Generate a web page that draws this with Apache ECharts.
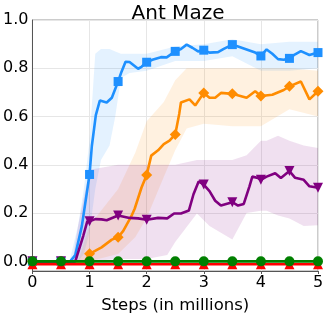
<!DOCTYPE html>
<html><head><meta charset="utf-8">
<script src="https://cdn.jsdelivr.net/npm/echarts@6/dist/echarts.min.js"></script>
<style>html,body{margin:0;padding:0;background:#fff}#c{width:332px;height:319px}</style>
</head><body><div id="c"></div>
<script>
var xTicks = [0, 1, 2, 3, 4, 5];
var yTicks = [0.0, 0.2, 0.4, 0.6, 0.8, 1.0];

var blueX = [0,0.5,0.66,0.75,0.865,1.0,1.04,1.11,1.18,1.3,1.39,1.5,1.56,1.63,1.7,1.85,1.91,2.0,2.1,2.25,2.35,2.5,2.6,2.7,2.8,2.9,3.0,3.1,3.25,3.35,3.5,3.6,3.75,3.9,4.0,4.1,4.2,4.3,4.4,4.5,4.6,4.7,4.85,5.0];
var blueY = [0,0,0,0.026,0.146,0.36,0.478,0.606,0.666,0.658,0.678,0.745,0.786,0.827,0.826,0.798,0.806,0.825,0.835,0.846,0.845,0.87,0.88,0.898,0.885,0.87,0.875,0.865,0.867,0.88,0.898,0.89,0.878,0.865,0.851,0.878,0.86,0.838,0.835,0.841,0.858,0.871,0.855,0.865];
var blueBandX = [0.65,0.8,0.9,1.0,1.1,1.2,1.35,1.45,1.55,1.7,2.0,2.5,3.0,3.5,4.0,4.5,5.0];
var blueLow  = [0,0,0.03,0.12,0.3,0.42,0.48,0.6,0.76,0.78,0.79,0.83,0.83,0.85,0.79,0.79,0.8];
var blueHigh = [0,0.15,0.3,0.5,0.86,0.88,0.88,0.87,0.86,0.86,0.86,0.89,0.9,0.92,0.9,0.91,0.91];

var orangeX = [0,0.5,0.92,1.0,1.21,1.39,1.5,1.59,1.73,1.79,1.91,2.0,2.08,2.2,2.3,2.4,2.5,2.57,2.6,2.75,2.85,3.0,3.1,3.2,3.3,3.5,3.75,3.9,4.0,4.2,4.4,4.5,4.7,4.85,5.0];
var orangeY = [0,0,0,0.031,0.058,0.09,0.1,0.126,0.186,0.218,0.306,0.358,0.438,0.46,0.486,0.5,0.526,0.611,0.658,0.671,0.646,0.698,0.678,0.678,0.698,0.694,0.678,0.705,0.685,0.69,0.71,0.725,0.745,0.671,0.705];
var orangeBandX = [0.8,1.0,1.5,1.8,2.0,2.3,2.5,2.7,3.0,3.5,4.0,4.5,5.0];
var orangeLow  = [0,0,0.03,0.1,0.18,0.35,0.46,0.55,0.57,0.56,0.56,0.63,0.6];
var orangeHigh = [0,0.15,0.3,0.45,0.58,0.66,0.75,0.8,0.8,0.8,0.8,0.8,0.79];

var purpleX = [0,0.5,0.75,0.89,0.96,1.0,1.1,1.21,1.3,1.5,1.7,1.85,2.0,2.2,2.36,2.48,2.6,2.74,2.82,2.91,3.0,3.1,3.2,3.3,3.5,3.6,3.7,3.8,3.85,3.95,4.0,4.1,4.25,4.35,4.5,4.6,4.75,4.85,5.0];
var purpleY = [0,0,0,0.106,0.166,0.166,0.175,0.174,0.17,0.19,0.18,0.178,0.172,0.18,0.178,0.198,0.198,0.211,0.278,0.331,0.318,0.291,0.251,0.231,0.245,0.231,0.238,0.311,0.351,0.345,0.338,0.351,0.365,0.345,0.374,0.346,0.338,0.311,0.305];
var purpleBandX = [0.7,0.8,1.0,1.5,2.0,2.36,2.5,2.88,3.1,3.5,3.75,4.0,4.1,4.3,4.5,4.75,5.0];
var purpleLow  = [0,0,0,0.01,0.01,0.026,0.08,0.198,0.146,0.091,0.2,0.21,0.21,0.19,0.178,0.146,0.15];
var purpleHigh = [0,0.15,0.38,0.4,0.4,0.4,0.4,0.42,0.42,0.42,0.44,0.5,0.5,0.52,0.5,0.48,0.47];

var greenX = [0,0.5,1,1.5,2,2.5,3,3.5,4,4.5,5];
var greenY = [0,0,0,0,0,0,0,0,0,0,0];
var redX = [0,0.5,1,1.5,2,2.5,3,3.5,4,4.5,5];
var redY = [-0.012,-0.012,-0.012,-0.012,-0.012,-0.012,-0.012,-0.012,-0.012,-0.012,-0.012];

function pairs(xs, ys){ return xs.map(function(x,i){return [x, ys[i]];}); }
function isMark(v){ var r = v[0]*2; return Math.abs(r - Math.round(r)) < 1e-6; }

function band(xs, lo, hi, color){
  return {
    type: 'custom', z: 1, silent: true,
    data: xs.map(function(x,i){return [x, lo[i], hi[i]];}),
    renderItem: function(params, api){
      if (params.dataIndex !== 0) return null;
      var pts = [];
      for (var i=0;i<xs.length;i++) pts.push(api.coord([xs[i], hi[i]]));
      for (var j=xs.length-1;j>=0;j--) pts.push(api.coord([xs[j], lo[j]]));
      return {type:'polygon', shape:{points:pts}, style:{fill:color, stroke:null}};
    }
  };
}
function line(xs, ys, color, symbol, size, z, rot){
  return {
    type: 'line', z: z, data: pairs(xs, ys),
    symbol: function(v){ return isMark(v) ? symbol : 'none'; },
    symbolSize: size, symbolRotate: rot || 0, showAllSymbol: true,
    lineStyle: {color: color, width: 2.6},
    itemStyle: {color: color, borderWidth: 0},
    animation: false
  };
}

var chart = echarts.init(document.getElementById('c'), null, {renderer:'canvas'});
chart.setOption({
  animation: false,
  title: {text: 'Ant Maze', left: 173, top: -1, textAlign: 'center',
    textStyle: {fontFamily: 'DejaVu Sans', fontSize: 20, fontWeight: 'normal', color: '#000'}},
  grid: {left: 30, right: 14, top: 20, bottom: 40, show: true, borderColor: '#999', borderWidth: 1},
  xAxis: {
    type: 'value', min: 0, max: 5, interval: 1,
    name: 'Steps (in millions)', nameLocation: 'middle', nameGap: 26,
    nameTextStyle: {fontFamily: 'DejaVu Sans', fontSize: 16.5, color: '#000'},
    axisLine: {show: true, onZero: false, lineStyle: {color: '#555', width: 1}},
    axisTick: {show: true, length: 3, lineStyle: {color: '#555'}},
    axisLabel: {fontFamily: 'DejaVu Sans', fontSize: 16, color: '#000', margin: 4,
      formatter: function(v){ return xTicks.indexOf(v) >= 0 ? String(v) : ''; }},
    splitLine: {show: true, lineStyle: {color: '#e6e6e6', width: 1}}
  },
  yAxis: {
    type: 'value', min: -0.04, max: 1.0, splitNumber: 5,
    axisLine: {show: true, lineStyle: {color: '#555', width: 1}},
    axisTick: {show: false},
    axisLabel: {fontFamily: 'DejaVu Sans', fontSize: 16, color: '#000', margin: 4, showMinLabel: false,
      formatter: function(v){
        for (var i=0;i<yTicks.length;i++) if (Math.abs(v - yTicks[i]) < 1e-6) return yTicks[i].toFixed(1);
        return '';
      }},
    splitLine: {show: true, lineStyle: {color: '#e6e6e6', width: 1}}
  },
  series: [
    band(blueBandX, blueLow, blueHigh, 'rgba(30,144,255,0.12)'),
    band(orangeBandX, orangeLow, orangeHigh, 'rgba(255,140,0,0.12)'),
    band(purpleBandX, purpleLow, purpleHigh, 'rgba(128,0,128,0.12)'),
    line(blueX, blueY, '#1E90FF', 'rect', 9, 3),
    line(orangeX, orangeY, '#FF8C00', 'diamond', 11, 4),
    line(purpleX, purpleY, '#800080', 'triangle', 10, 5, 180),
    line(redX, redY, '#FF0000', 'triangle', 10, 6),
    line(greenX, greenY, '#008000', 'circle', 10, 7)
  ]
});
</script></body></html>
